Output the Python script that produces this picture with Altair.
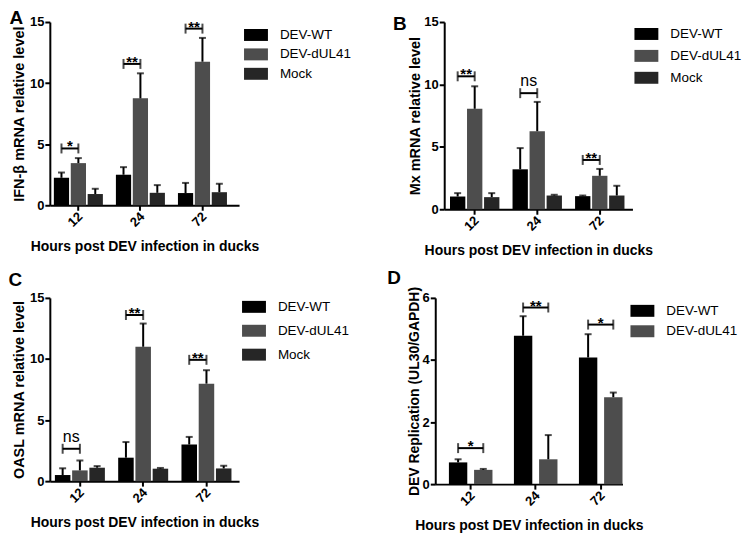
import altair as alt
import pandas as pd

FONT = "Liberation Sans"

times = ["12", "24", "72"]
groups3 = ["DEV-WT", "DEV-dUL41", "Mock"]
groups2 = ["DEV-WT", "DEV-dUL41"]
colors3 = ["#000000", "#4d4d4d", "#262626"]
colors2 = ["#000000", "#4d4d4d"]
xtitle = "Hours post DEV infection in ducks"

# Panel A: IFN-beta
ifn_wt = [2.25, 2.50, 1.00]
ifn_wt_sd = [0.43, 0.62, 0.83]
ifn_ko = [3.45, 8.75, 11.75]
ifn_ko_sd = [0.41, 2.05, 1.95]
ifn_mock = [0.92, 1.02, 1.07]
ifn_mock_sd = [0.43, 0.63, 0.69]
ifn_sig_level = [4.65, 11.57, 14.46]
ifn_sig_text = ["*", "**", "**"]

# Panel B: Mx
mx_wt = [1.02, 3.20, 1.05]
mx_wt_sd = [0.27, 1.70, 0.05]
mx_ko = [8.05, 6.25, 2.68]
mx_ko_sd = [1.80, 2.35, 0.55]
mx_mock = [0.97, 1.10, 1.10]
mx_mock_sd = [0.32, 0.06, 0.78]
mx_sig_level = [10.65, 9.30, 3.95]
mx_sig_text = ["**", "ns", "**"]

# Panel C: OASL
oasl_wt = [0.50, 1.92, 3.00]
oasl_wt_sd = [0.55, 1.28, 0.62]
oasl_ko = [0.88, 11.00, 7.98]
oasl_ko_sd = [0.80, 1.90, 1.10]
oasl_mock = [1.10, 1.02, 1.04]
oasl_mock_sd = [0.13, 0.06, 0.22]
oasl_sig_level = [2.65, 13.60, 9.93]
oasl_sig_text = ["ns", "**", "**"]

# Panel D: DEV replication
rep_wt = [0.70, 4.78, 4.08]
rep_wt_sd = [0.10, 0.63, 0.75]
rep_ko = [0.46, 0.80, 2.80]
rep_ko_sd = [0.03, 0.78, 0.15]
rep_sig_level = [1.16, 5.69, 5.14]
rep_sig_text = ["*", "**", "*"]


def bar_table(groups, means, sds):
    rows = []
    for g, m, s in zip(groups, means, sds):
        for t, mv, sv in zip(times, m, s):
            rows.append({"time": t, "group": g, "mean": mv, "top": mv + sv})
    return pd.DataFrame(rows)


def sig_table(levels, texts):
    return pd.DataFrame({"time": times, "level": levels, "label": texts})


SYMBOL = "M-1.5,-0.75H1.5V0.75H-1.5Z"


def panel(letter, bars, sig, groups, colors, ytitle, ymax, ystep, width, height,
          pi, po, al, pio, legx, legy, rowpad, letter_dx, letter_off,
          ytitle_size, ytitle_pad):
    n = len(groups)
    step_o = 1.0 / (n - pio)
    w_o = step_o * (1 - pio)
    f1 = w_o / 2
    f2 = step_o + w_o / 2
    fm = (f1 + f2) / 2

    xscale = alt.Scale(paddingInner=pi, paddingOuter=po, align=al)
    xaxis = alt.Axis(labelAngle=-45, labelAlign="center", labelBaseline="middle",
                     labelPadding=9, labelOffset=-3, titlePadding=10,
                     titleFontSize=14, labelFontSize=13)
    yscale = alt.Scale(domain=[0, ymax], nice=False)
    yaxis = alt.Axis(values=list(range(0, ymax + 1, ystep)), titleFontSize=ytitle_size,
                     labelFontSize=13, titlePadding=ytitle_pad, labelPadding=1)

    def X(bp=None):
        if bp is None:
            return alt.X("time:N", sort=times, scale=xscale, axis=xaxis, title=xtitle)
        return alt.X("time:N", sort=times, scale=xscale, axis=xaxis, title=xtitle,
                     bandPosition=bp)

    def Y(field):
        return alt.Y(field, scale=yscale, axis=yaxis, title=ytitle)

    xoff = alt.XOffset("group:N", sort=groups,
                       scale=alt.Scale(paddingInner=pio, paddingOuter=0))

    base = alt.Chart(bars)
    bar = base.mark_bar().encode(
        x=X(), xOffset=xoff, y=Y("mean:Q"),
        color=alt.Color("group:N", sort=groups,
                        scale=alt.Scale(domain=groups, range=colors),
                        legend=alt.Legend(title=None, orient="none", legendX=legx,
                                          legendY=legy, symbolType=SYMBOL,
                                          symbolSize=256, symbolStrokeWidth=0,
                                          symbolOpacity=1, labelFont=FONT,
                                          labelFontSize=13.5, labelColor="black",
                                          labelOffset=16, rowPadding=rowpad,
                                          padding=0)),
    )
    err = base.mark_rule(color="black", strokeWidth=2).encode(
        x=X(), xOffset=xoff, y=Y("mean:Q"), y2="top:Q")
    cap = base.mark_tick(color="black", size=7, thickness=2).encode(
        x=X(), xOffset=xoff, y=Y("top:Q"))

    sbase = alt.Chart(sig)
    line = sbase.mark_rule(color="black", strokeWidth=2).encode(
        x=X(f1), x2=alt.X2("time", bandPosition=f2), y=Y("level:Q"))
    endl = sbase.mark_tick(color="black", orient="vertical", size=10,
                           thickness=2).encode(x=X(f1), y=Y("level:Q"))
    endr = sbase.mark_tick(color="black", orient="vertical", size=10,
                           thickness=2).encode(x=X(f2), y=Y("level:Q"))
    stars = sbase.transform_filter("datum.label != 'ns'").mark_text(
        font=FONT, fontWeight="bold", fontSize=15, baseline="alphabetic", dy=3,
        color="black").encode(x=X(fm), y=Y("level:Q"), text="label:N")
    ns = sbase.transform_filter("datum.label == 'ns'").mark_text(
        font=FONT, fontSize=16, baseline="alphabetic", dy=-7,
        color="black").encode(x=X(fm), y=Y("level:Q"), text="label:N")

    return alt.layer(bar, err, cap, line, endl, endr, stars, ns).properties(
        width=width, height=height,
        title=alt.TitleParams(letter, anchor="start", font=FONT, fontSize=19,
                              fontWeight="bold", dx=letter_dx, offset=letter_off,
                              color="black"),
    )


dfA = bar_table(groups3, [ifn_wt, ifn_ko, ifn_mock], [ifn_wt_sd, ifn_ko_sd, ifn_mock_sd])
dfB = bar_table(groups3, [mx_wt, mx_ko, mx_mock], [mx_wt_sd, mx_ko_sd, mx_mock_sd])
dfC = bar_table(groups3, [oasl_wt, oasl_ko, oasl_mock], [oasl_wt_sd, oasl_ko_sd, oasl_mock_sd])
dfD = bar_table(groups2, [rep_wt, rep_ko], [rep_wt_sd, rep_ko_sd])

pA = panel("A", dfA, sig_table(ifn_sig_level, ifn_sig_text), groups3, colors3,
           "IFN-β mRNA relative level", 15, 5, 190, 184,
           0.21, 0.13, 0.25, 0.1, 199, 5, 4.5, -2, -12, 14.5, 3)
pB = panel("B", dfB, sig_table(mx_sig_level, mx_sig_text), groups3, colors3,
           "Mx mRNA relative level", 15, 5, 189, 188,
           0.21, 0.11, 0.42, 0.1, 195, 4, 7, -15, -18, 14.5, 1)
pC = panel("C", dfC, sig_table(oasl_sig_level, oasl_sig_text), groups3, colors3,
           "OASL mRNA relative level", 15, 5, 190, 184,
           0.21, 0.1, 0.4, 0.1, 197, 1, 9, -3, 2, 14.5, 3)
pD = panel("D", dfD, sig_table(rep_sig_level, rep_sig_text), groups2, colors2,
           "DEV Replication (UL30/GAPDH)", 6, 2, 188, 187,
           0.33, 0.105, 1.0, 0.27, 200, 5, 5.5, -20, -2, 14, 1)

row1 = alt.hconcat(pA, pB, spacing=41).resolve_scale(
    x="independent", y="independent", color="independent", xOffset="independent")
row2 = alt.hconcat(pC, pD, spacing=37).resolve_scale(
    x="independent", y="independent", color="independent", xOffset="independent")

chart = alt.vconcat(row1, row2, spacing=11).resolve_scale(
    x="independent", y="independent", color="independent", xOffset="independent"
).properties(padding=0).configure_view(stroke=None).configure_axis(
    labelFont=FONT, titleFont=FONT, labelFontWeight="bold", titleFontWeight="bold",
    labelColor="black", titleColor="black", domainColor="black", domainWidth=2,
    tickColor="black", tickWidth=2, tickSize=5, grid=False,
)

chart.save("out.html", embed_options={"renderer": "svg", "actions": False})
